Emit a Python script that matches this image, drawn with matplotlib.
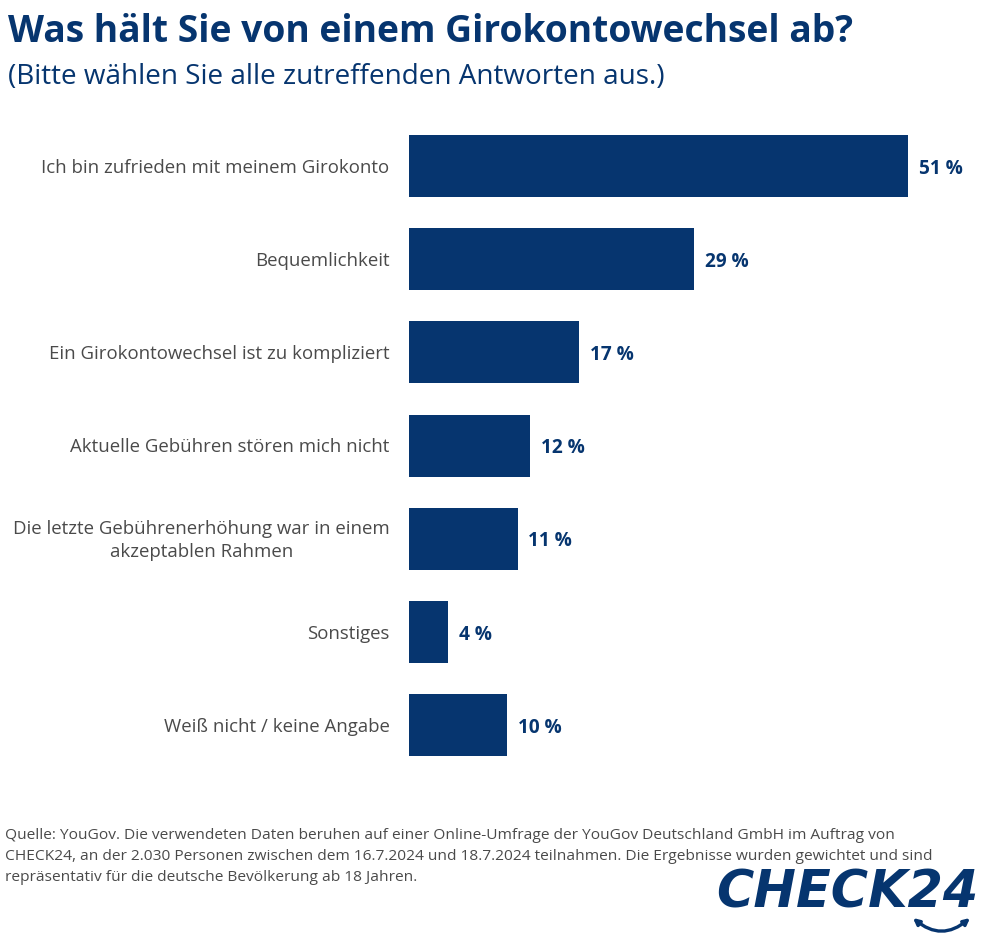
import matplotlib
matplotlib.use("Agg")
import matplotlib.pyplot as plt
from matplotlib.patches import FancyArrowPatch

categories = ["Ich bin zufrieden mit meinem Girokonto", "Bequemlichkeit",
              "Ein Girokontowechsel ist zu kompliziert", "Aktuelle Gebühren stören mich nicht",
              "Die letzte Gebührenerhöhung war in einem\nakzeptablen Rahmen", "Sonstiges",
              "Weiß nicht / keine Angabe"]
values = [51, 29.1, 17.4, 12.4, 11.1, 4, 10]
labels = ["51 %", "29 %", "17 %", "12 %", "11 %", "4 %", "10 %"]
title = "Was hält Sie von einem Girokontowechsel ab?"
subtitle = "(Bitte wählen Sie alle zutreffenden Antworten aus.)"
source_lines = ["Quelle: YouGov. Die verwendeten Daten beruhen auf einer Online-Umfrage der YouGov Deutschland GmbH im Auftrag von",
                "CHECK24, an der 2.030 Personen zwischen dem 16.7.2024 und 18.7.2024 teilnahmen. Die Ergebnisse wurden gewichtet und sind",
                "repräsentativ für die deutsche Bevölkerung ab 18 Jahren."]
NAVY = "#06356f"
GREY = "#4a4a4a"
W, H = 990, 936
plt.rcParams["font.family"] = ["Open Sans", "DejaVu Sans"]
fig = plt.figure(figsize=(W/100, H/100), dpi=100, facecolor="white")
ax = fig.add_axes([409/W, 1-768/H, (908-409)/W*53/51, (768-125)/H])
ax.barh(range(len(values)), values, height=0.665, color=NAVY)
ax.set_ylim(6.459, -0.44)
ax.set_xlim(0, 53)
ax.axis("off")
for i, (c, v, l) in enumerate(zip(categories, values, labels)):
    ax.annotate(c, (0, i), xytext=(-14, -1.2), textcoords="offset points", ha="right", va="center",
                fontsize=13.4, color=GREY, multialignment="center", linespacing=1.4)
    ax.annotate(l, (v, i), xytext=(7.8, -1.8), textcoords="offset points", ha="left", va="center",
                fontsize=13.7, color=NAVY, fontweight="bold")
fig.text(8/W, 1-32/H, title, fontsize=26.8, fontweight="bold", color=NAVY, va="center", ha="left")
fig.text(8/W, 1-76.5/H, subtitle, fontsize=20.1, color=NAVY, va="center", ha="left")
for k, line in enumerate(source_lines):
    fig.text(5/W, 1-(839+21*k)/H, line, fontsize=11.13, color=GREY, va="baseline", ha="left")
fig.text(978/W, 1-893/H, "CHECK24", fontsize=36.6, fontweight="bold", fontstyle="italic",
         family="DejaVu Sans", color=NAVY, va="center", ha="right")
fig.add_artist(FancyArrowPatch((913/W, 1-918/H), (970/W, 1-918/H), transform=fig.transFigure,
               connectionstyle="arc3,rad=0.42", arrowstyle="<|-|>", mutation_scale=9,
               shrinkA=0, shrinkB=0, color=NAVY, lw=2.4))
fig.savefig("out.png", dpi=100)
